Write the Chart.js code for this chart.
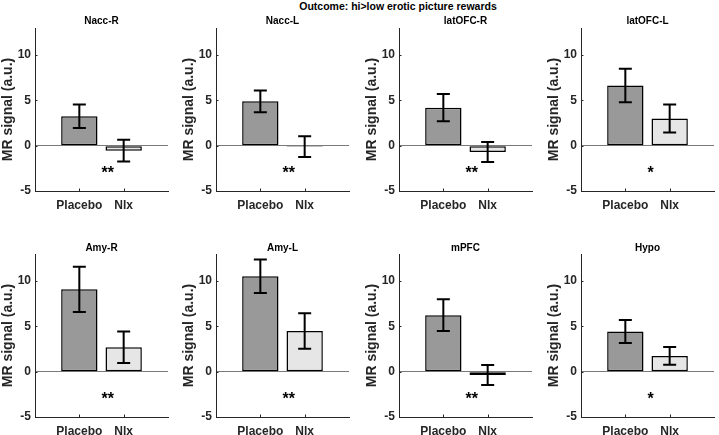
<!DOCTYPE html>
<html>
<head>
<meta charset="utf-8">
<script src="https://cdn.jsdelivr.net/npm/chart.js@4/dist/chart.umd.min.js"></script>
<style>
  html, body { margin: 0; padding: 0; background: #fff; overflow: hidden; }
  body { width: 719px; height: 435px; position: relative; font-family: "Liberation Sans", Arial, sans-serif; }
  #sup { position: absolute; top: 0px; left: 0; width: 796px; text-align: center; font: bold 10.5px "Liberation Sans", Arial, sans-serif; color: #000; line-height: 12px; }
  .panel { position: absolute; width: 175px; height: 212px; }
  .panel canvas { width: 175px; height: 212px; }
</style>
</head>
<body>
<div id="sup">Outcome: hi&gt;low erotic picture rewards</div>
<script>
// ---- data ----
const regions = ['Nacc-R', 'Nacc-L', 'latOFC-R', 'latOFC-L', 'Amy-R', 'Amy-L', 'mPFC', 'Hypo'];
const conditions = ['Placebo', 'Nlx'];
const placeboMean = [3.25, 4.9, 4.2, 6.65, 9.1, 10.55, 6.25, 4.45];
const placeboErr  = [1.3, 1.2, 1.5, 1.85, 2.5, 1.85, 1.75, 1.27];
const nlxMean     = [-0.55, -0.1, -0.7, 3.0, 2.7, 4.5, -0.37, 1.75];
const nlxErr      = [1.2, 1.15, 1.1, 1.55, 1.75, 1.95, 1.1, 0.98];
const stars       = ['**', '**', '**', '*', '**', '**', '**', '*'];
const yTicks      = [-5, 0, 5, 10];
const yMin = -5, yMax = 13;
const starY = -3.6;

// ---- layout ----
const FONT = '"Liberation Sans", Arial, sans-serif';
const axisColor = '#262626';
const colLeft = [0, 181, 364, 546];
const rowTop = [0, 226];
const titleOffset = [7, 6];

const overlay = {
  id: 'overlay',
  afterDatasetsDraw(chart) {
    const { idx, row } = chart.options.plugins.overlay;
    const { ctx, scales: { x, y }, chartArea } = chart;
    const means = [placeboMean[idx], nlxMean[idx]];
    const errs = [placeboErr[idx], nlxErr[idx]];
    ctx.save();
    ctx.strokeStyle = '#000';
    ctx.lineWidth = 2;
    means.forEach((m, k) => {
      const px = x.getPixelForValue(k + 1);
      const yt = y.getPixelForValue(m + errs[k]);
      const yb = y.getPixelForValue(m - errs[k]);
      ctx.beginPath();
      ctx.moveTo(px, yt); ctx.lineTo(px, yb);
      ctx.moveTo(px - 6.5, yt); ctx.lineTo(px + 6.5, yt);
      ctx.moveTo(px - 6.5, yb); ctx.lineTo(px + 6.5, yb);
      ctx.stroke();
    });
    // inward tick marks
    ctx.strokeStyle = axisColor;
    ctx.lineWidth = 1;
    ctx.beginPath();
    conditions.forEach((c, k) => {
      const px = Math.round(x.getPixelForValue(k + 1)) + 0.5;
      ctx.moveTo(px, y.bottom); ctx.lineTo(px, y.bottom - 2.5);
    });
    yTicks.forEach(v => {
      const py = Math.round(y.getPixelForValue(v)) + 0.5;
      ctx.moveTo(x.left, py); ctx.lineTo(x.left + 2.5, py);
    });
    ctx.stroke();
    // significance stars
    ctx.fillStyle = '#000';
    ctx.font = 'bold 16px ' + FONT;
    ctx.textAlign = 'left';
    ctx.textBaseline = 'alphabetic';
    ctx.fillText(stars[idx], x.getPixelForValue(1.5), y.getPixelForValue(starY));
    // panel title, centred over the axes
    ctx.font = 'bold 10px ' + FONT;
    ctx.textAlign = 'center';
    ctx.textBaseline = 'middle';
    ctx.fillText(regions[idx], (chartArea.left + chartArea.right) / 2, chartArea.top - titleOffset[row]);
    ctx.restore();
  }
};

regions.forEach((name, i) => {
  const r = Math.floor(i / 4), c = i % 4;
  const div = document.createElement('div');
  div.className = 'panel';
  div.style.left = colLeft[c] + 'px';
  div.style.top = rowTop[r] + 'px';
  const cv = document.createElement('canvas');
  cv.width = 175; cv.height = 212;
  div.appendChild(cv);
  document.body.appendChild(div);

  new Chart(cv, {
    type: 'bar',
    data: {
      labels: ['', ...conditions, ''],
      datasets: [{
        data: [null, placeboMean[i], nlxMean[i], null],
        backgroundColor: ['#000', '#999999', '#e6e6e6', '#000'],
        borderColor: '#000',
        borderWidth: 1.5,
        borderSkipped: false,
        barPercentage: 0.82,
        categoryPercentage: 1
      }]
    },
    options: {
      responsive: false,
      animation: false,
      devicePixelRatio: 1,
      layout: { padding: { left: 0, right: 4, top: 28, bottom: 0 } },
      plugins: {
        legend: { display: false },
        tooltip: { enabled: false },
        title: { display: false },
        overlay: { idx: i, row: r }
      },
      scales: {
        x: {
          type: 'category',
          offset: false,
          grid: { display: false, drawTicks: false },
          border: { display: true, color: axisColor, width: 1 },
          ticks: {
            autoSkip: false, maxRotation: 0, minRotation: 0, padding: 7,
            color: axisColor,
            font: { family: FONT, size: 12, weight: 'bold' }
          },
          afterFit: s => { s.height = 21; }
        },
        y: {
          min: yMin, max: yMax,
          afterBuildTicks: s => { s.ticks = yTicks.map(v => ({ value: v })); },
          grid: {
            drawTicks: false,
            color: ctx => (ctx.tick && ctx.tick.value === 0) ? '#7a7a7a' : 'rgba(0,0,0,0)',
            lineWidth: 1
          },
          border: { display: true, color: axisColor, width: 1 },
          ticks: {
            padding: 4,
            color: axisColor,
            font: { family: FONT, size: 12, weight: 'bold' }
          },
          title: {
            display: true,
            text: 'MR signal (a.u.)',
            color: axisColor,
            padding: { top: 0, bottom: 0 },
            font: { family: FONT, size: 14, weight: 'bold' }
          },
          afterFit: s => { s.width = 35; }
        }
      }
    },
    plugins: [overlay]
  });
});
</script>
</body>
</html>
